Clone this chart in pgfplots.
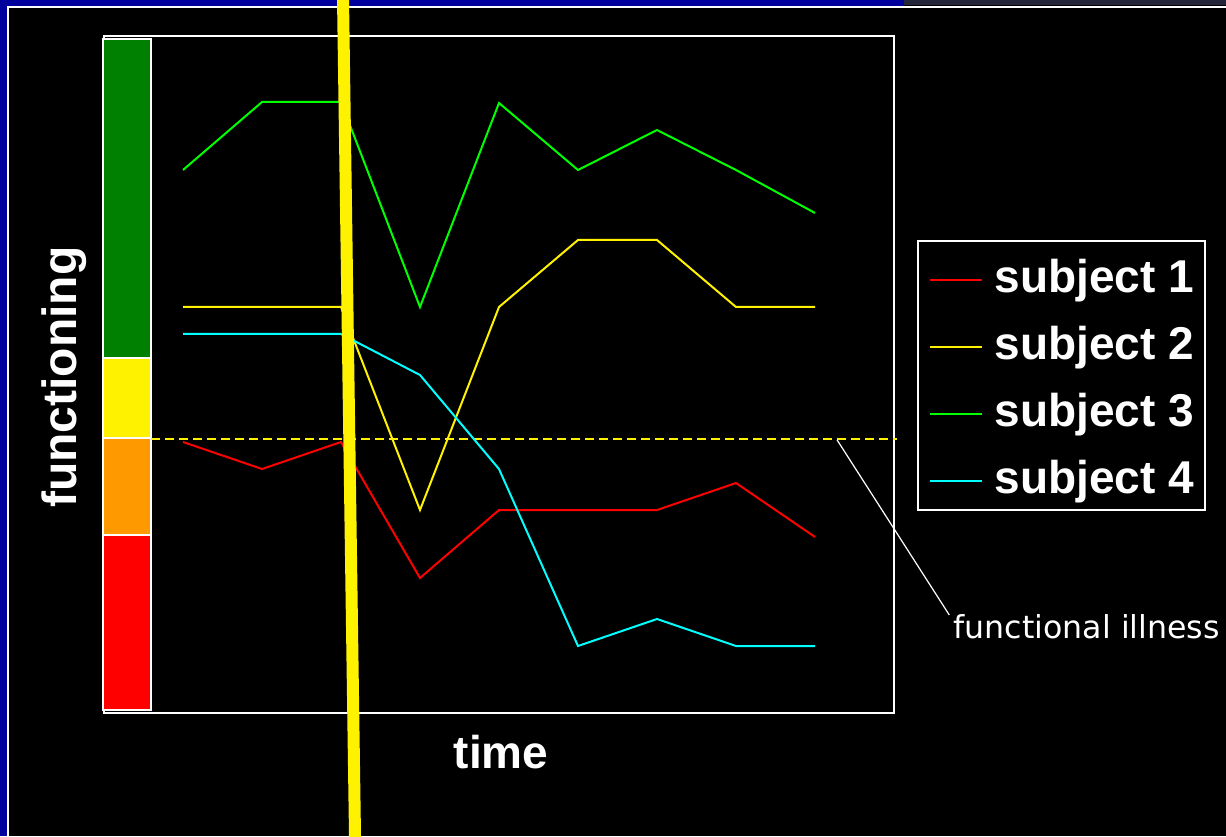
\documentclass[border=0pt]{standalone}
\usepackage{fontspec}
\setmainfont{Liberation Sans}
\newfontfamily\dejavu{DejaVu Sans}
\usepackage{pgfplots}
\pgfplotsset{compat=1.18}

\definecolor{slideblue}{HTML}{00009C}
\definecolor{topgrey}{HTML}{23263A}
\definecolor{bandgreen}{HTML}{008000}
\definecolor{bandorange}{HTML}{FF9900}
\definecolor{linegreen}{HTML}{00FF00}
\definecolor{linecyan}{HTML}{00FFFF}

\begin{document}
\begin{tikzpicture}
% slide background and frame (1px = 0.5pt)
\useasboundingbox (0,0) rectangle (613pt,418pt);
\clip (0,0) rectangle (613pt,418pt);
\fill[black] (0,0) rectangle (613pt,418pt);
\fill[slideblue] (0,0) rectangle (3.5pt,418pt);
\fill[slideblue] (0,415pt) rectangle (452pt,418pt);
\fill[topgrey] (452pt,415.5pt) rectangle (613pt,418pt);
\draw[white, line width=1pt] (4.2pt,0) -- (4.2pt,414.5pt) -- (613pt,414.5pt);

\begin{axis}[
  at={(52pt,61.5pt)}, anchor=south west,
  scale only axis, width=395pt, height=338.5pt,
  xmin=0, xmax=10, ymin=0, ymax=677,
  ticks=none, clip=false,
  axis line style={white, line width=1pt},
  xlabel={time}, ylabel={functioning},
  label style={font=\bfseries\fontsize{23}{27}\selectfont, text=white},
  xlabel style={at={([yshift=-27.5pt]axis description cs:0.5025,0)}, anchor=base},
  ylabel style={at={([xshift=-13.5pt]axis description cs:0,0.496)}, anchor=base,
    font=\bfseries\fontsize{24}{28}\selectfont},
  legend style={at={(1.0285,0.699)}, anchor=north west, draw=white, fill=black,
    text=white, line width=1pt, font=\bfseries\fontsize{23}{27}\selectfont,
    row sep=6.5pt, column sep=6pt, inner xsep=5.5pt, inner ysep=3.5pt,
    nodes={inner sep=0pt, text height=22.5pt, text depth=4.5pt}},
  legend cell align=left,
  legend image code/.code={\draw[#1] (0pt,-2.5pt) -- (26pt,-2.5pt);},
]
% level bar on the left
\filldraw[fill=bandgreen, draw=white, line width=0.75pt] (axis cs:-0.013,355) rectangle (axis cs:0.595,674);
\filldraw[fill=yellow, draw=white, line width=0.75pt] (axis cs:-0.013,275) rectangle (axis cs:0.595,355);
\filldraw[fill=bandorange, draw=white, line width=0.75pt] (axis cs:-0.013,178) rectangle (axis cs:0.595,275);
\filldraw[fill=red, draw=white, line width=0.75pt] (axis cs:-0.013,3) rectangle (axis cs:0.595,178);
\draw[yellow, line width=1pt, dash pattern=on 4.5pt off 2.5pt] (axis cs:0.595,274) -- (axis cs:10.04,274);

\addplot[red, line width=1pt] coordinates {(1,271) (2,244) (3,271) (4,135) (5,203) (6,203) (7,203) (8,230) (9,176)};
\addlegendentry{subject 1}
\addplot[yellow, line width=1pt] coordinates {(1,406) (2,406) (3,406) (4,203) (5,406) (6,473) (7,473) (8,406) (9,406)};
\addlegendentry{subject 2}
\addplot[linegreen, line width=1pt] coordinates {(1,543) (2,611) (3,611) (4,406) (5,610) (6,543) (7,583) (8,543) (9,500)};
\addlegendentry{subject 3}
\addplot[linecyan, line width=1pt] coordinates {(1,379) (2,379) (3,379) (4,338) (5,244) (6,67) (7,94) (8,67) (9,67)};
\addlegendentry{subject 4}

% annotation
\draw[white, line width=0.6pt] (axis cs:9.28,273) -- (axis cs:10.70,98);
\node[anchor=base, text=white, font=\dejavu\fontsize{15.8}{18}\selectfont] at (axis cs:12.44,75) {functional illness};
% thick yellow marker
\draw[yellow, line width=6pt] (axis cs:3.024,723) -- (axis cs:3.179,-133);
\end{axis}
\end{tikzpicture}
\end{document}
